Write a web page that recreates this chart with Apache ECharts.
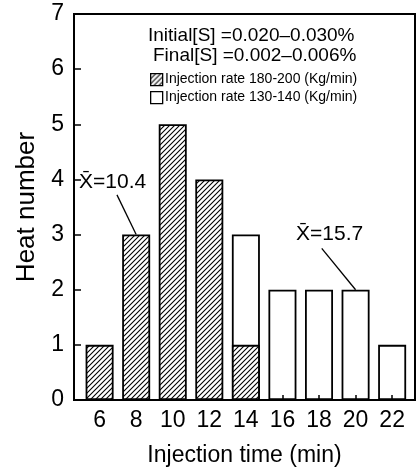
<!DOCTYPE html>
<html>
<head>
<meta charset="utf-8">
<script src="https://cdn.jsdelivr.net/npm/echarts@6/dist/echarts.min.js"></script>
<style>
html, body { margin: 0; padding: 0; background: #fff; }
#chart { width: 417px; height: 472px; }
</style>
</head>
<body>
<div id="chart"></div>
<script>
// injection time (min)
var times = [6, 8, 10, 12, 14, 16, 18, 20, 22];
// heats, injection rate 180-200 kg/min (hatched)
var fastHeats = [1, 3, 5, 4, 1, 0, 0, 0, 0];
// heats, injection rate 130-140 kg/min (open)
var slowHeats = [0, 0, 0, 0, 2, 2, 2, 2, 1];
var yTicks = [0, 1, 2, 3, 4, 5, 6, 7];

var FONT = "Liberation Sans";

// diagonal hatch tile
function hatchPattern()
{
    var s = 5;
    var c = document.createElement("canvas");
    c.width = s;
    c.height = s;
    var ctx = c.getContext("2d");
    ctx.fillStyle = "#fff";
    ctx.fillRect(0, 0, s, s);
    ctx.strokeStyle = "#000";
    ctx.lineWidth = 1.1;
    ctx.beginPath();
    ctx.moveTo(0, s); ctx.lineTo(s, 0);
    ctx.moveTo(-1, 1); ctx.lineTo(1, -1);
    ctx.moveTo(s - 1, s + 1); ctx.lineTo(s + 1, s - 1);
    ctx.stroke();
    return {image: c, repeat: "repeat"};
}
var hatch = hatchPattern();

var fastData = [];
var slowData = [];
for (var i = 0; i < times.length; i++)
{
    if (fastHeats[i] > 0)
        fastData.push([times[i], fastHeats[i]]);
    // open bar sits on top of the hatched one
    if (slowHeats[i] > 0)
        slowData.push([times[i], fastHeats[i] + slowHeats[i]]);
}

var myChart = echarts.init(document.getElementById("chart"));
var option = {
    animation: false,
    textStyle: {fontFamily: FONT, color: "#000"},
    grid: {
        left: 74, right: 2, top: 14, bottom: 69,
        show: true, borderColor: "#000", borderWidth: 2
    },
    xAxis: {
        type: "value",
        min: 4.6,
        max: 23.25,
        name: "Injection time (min)",
        nameLocation: "middle",
        nameGap: 44,
        nameTextStyle: {fontSize: 23, color: "#000", fontFamily: FONT},
        axisLine: {show: true, lineStyle: {color: "#000", width: 2}},
        axisTick: {show: true, inside: true, length: 5, customValues: times,
            lineStyle: {color: "#000", width: 1.5}},
        axisLabel: {customValues: times, fontSize: 23, margin: 9, color: "#000", fontFamily: FONT},
        splitLine: {show: false}
    },
    yAxis: {
        type: "value",
        min: 0,
        max: 7,
        interval: 1,
        name: "Heat number",
        nameLocation: "middle",
        nameGap: 31,
        nameTextStyle: {fontSize: 26, color: "#000", fontFamily: FONT},
        axisLine: {show: true, lineStyle: {color: "#000", width: 2}},
        axisTick: {show: true, inside: true, length: 7, lineStyle: {color: "#000", width: 1.5}},
        axisLabel: {fontSize: 23, margin: 10, color: "#000", fontFamily: FONT},
        splitLine: {show: false}
    },
    series: [
        {
            name: "Injection rate 130-140 (Kg/min)",
            type: "bar",
            barWidth: 28,
            barGap: "-100%",
            data: slowData,
            itemStyle: {color: "rgba(255,255,255,0)", borderColor: "#000", borderWidth: 1.8}
        },
        {
            name: "Injection rate 180-200 (Kg/min)",
            type: "bar",
            barWidth: 28,
            barGap: "-100%",
            data: fastData,
            itemStyle: {color: hatch, borderColor: "#000", borderWidth: 1.8},
            markLine: {
                silent: true,
                symbol: "none",
                label: {show: false},
                lineStyle: {color: "#000", width: 1.3, type: "solid"},
                data: [
                    [{coord: [6.95, 3.72]}, {coord: [8, 3]}],
                    [{coord: [18.15, 2.75]}, {coord: [20, 2]}]
                ]
            }
        }
    ],
    graphic: [
        {type: "text", left: 148, top: 26, style: {text: "Initial[S] =0.020\u20130.030%", font: "19px " + FONT, fill: "#000"}},
        {type: "text", left: 153, top: 46, style: {text: "Final[S] =0.002\u20130.006%", font: "19px " + FONT, fill: "#000"}},
        {type: "rect", left: 150, top: 73, shape: {width: 12, height: 12},
            style: {fill: hatch, stroke: "#000", lineWidth: 1.3}},
        {type: "text", left: 165, top: 72, style: {text: "Injection rate 180-200 (Kg/min)", font: "14px " + FONT, fill: "#000"}},
        {type: "rect", left: 150, top: 91, shape: {width: 12, height: 12},
            style: {fill: "#fff", stroke: "#000", lineWidth: 1.3}},
        {type: "text", left: 165, top: 90, style: {text: "Injection rate 130-140 (Kg/min)", font: "14px " + FONT, fill: "#000"}},
        {type: "text", left: 79, top: 172, style: {text: "X\u0304=10.4", font: "21px " + FONT, fill: "#000"}},
        {type: "text", left: 296, top: 224, style: {text: "X\u0304=15.7", font: "21px " + FONT, fill: "#000"}}
    ]
};
myChart.setOption(option);
</script>
</body>
</html>
